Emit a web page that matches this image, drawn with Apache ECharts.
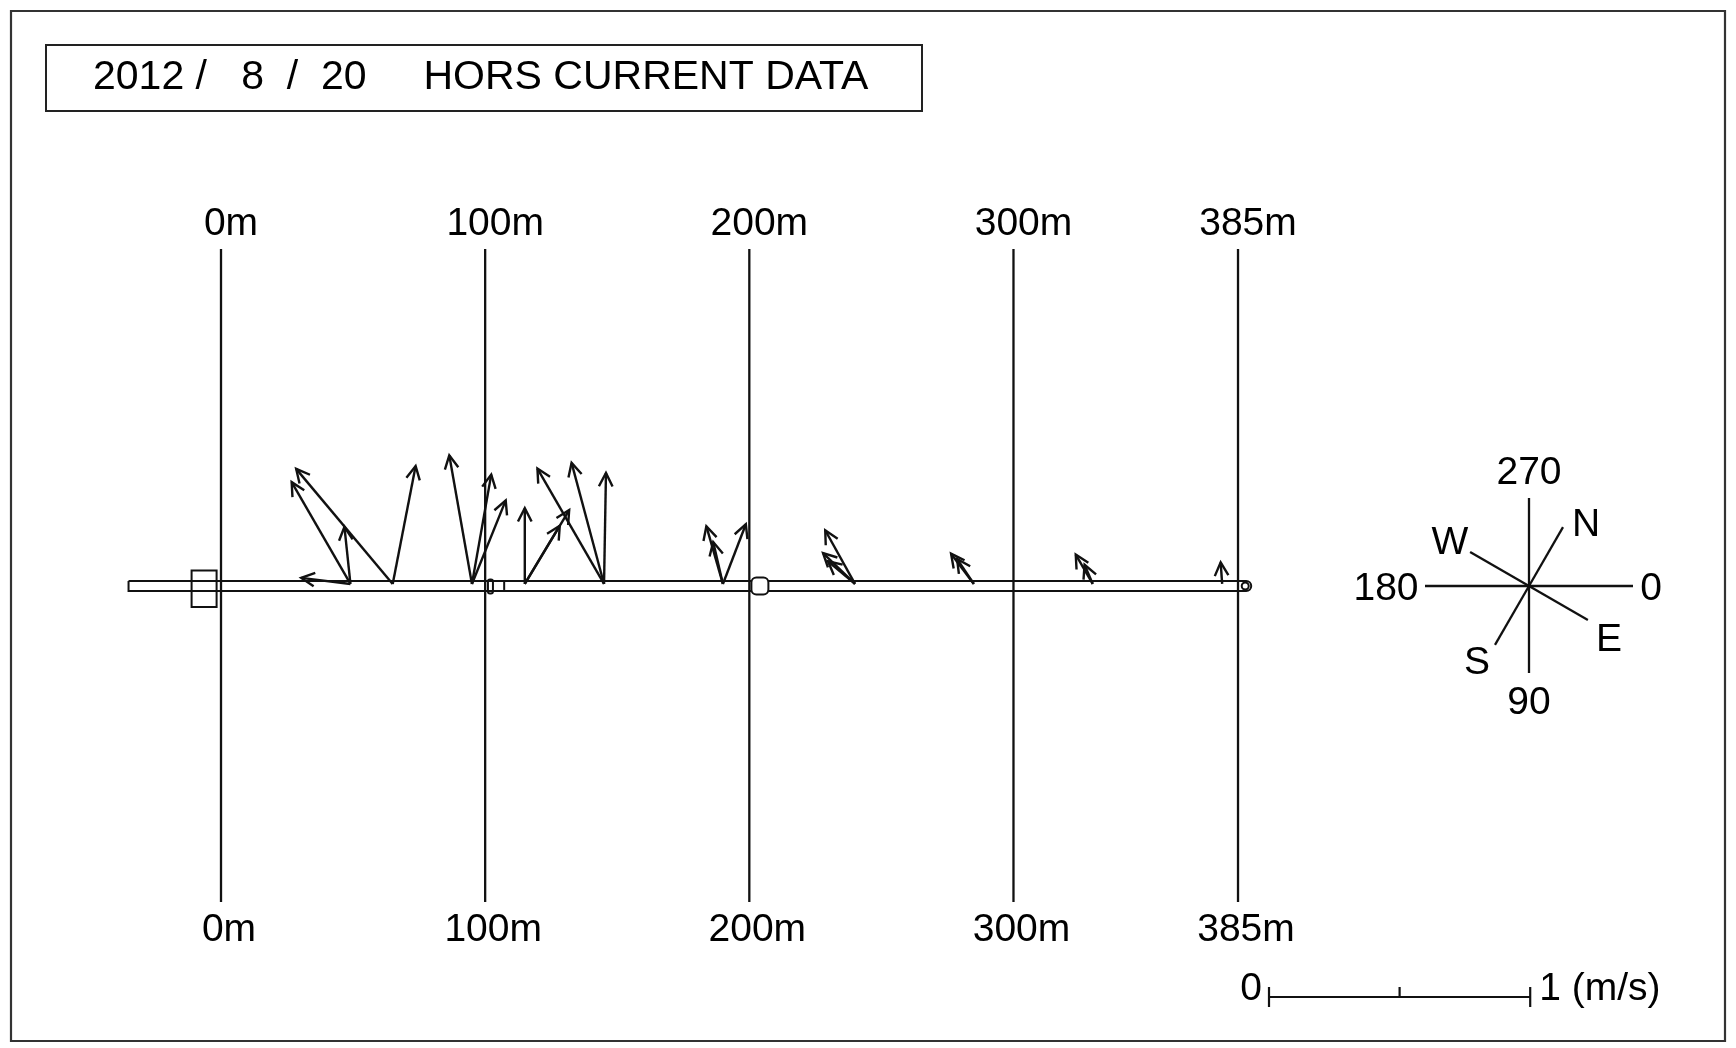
<!DOCTYPE html>
<html><head><meta charset="utf-8">
<script src="https://cdn.jsdelivr.net/npm/echarts@6/dist/echarts.min.js"></script>
<style>html,body{margin:0;padding:0;background:#fff}#c{width:1736px;height:1048px}</style>
</head><body><div id="c"></div>
<script>
// ---------------- data ----------------
const titleText = '2012 /   8  /  20     HORS CURRENT DATA';
const stationValues = [0, 100, 200, 300, 385];
const stationLabels = ['0m', '100m', '200m', '300m', '385m'];
// current vectors: base position along pier (m), direction (deg, 0 = right, 90 = down), speed (m/s)
const arrowPositions  = [49, 49, 49, 65, 65, 95, 95, 95, 115, 115, 115, 145, 145, 145, 190, 190, 190, 240, 240, 240, 285, 285, 330, 330, 379];
const arrowDirections = [240, 264, 187, 230, 281, 260, 280, 292, 270, 301, 301, 240, 255, 271, 254, 257, 291, 241, 224, 220, 233, 236, 240, 247, 266];
const arrowSpeeds     = [0.45, 0.22, 0.19, 0.575, 0.46, 0.50, 0.425, 0.345, 0.29, 0.33, 0.26, 0.51, 0.48, 0.425, 0.23, 0.165, 0.245, 0.235, 0.17, 0.135, 0.145, 0.115, 0.13, 0.08, 0.083];
const compassValues = [0, 90, 180, 270];
const compassLabels = ['0', '90', '180', '270'];
const bearingValues = [30, 120, 210, 300];
const bearingLabels = ['E', 'S', 'W', 'N'];
const scaleValues = [0, 0.5, 1];
const scaleLabels = ['0', '', '1 (m/s)'];
const pierExtent = [-35, 390];
const pierBlockM = -6.4, pierJointM = 102, pierTickM = 107.2, pierNodeM = 204;

// ---------------- style / layout ----------------
const INK = '#111';
const FONT = '"Liberation Sans", Arial, sans-serif';
const compassCenter = [1529, 586];
const compassLabelPos = {'0': [1651, 589], '90': [1529, 703], '180': [1386, 589], '270': [1529, 473],
                         'E': [1609, 640], 'S': [1477, 663], 'W': [1450, 543], 'N': [1586, 525]};
const scaleOrigin = [1269, 997];

const chart = echarts.init(document.getElementById('c'), null, {renderer: 'canvas'});

function compassGraphics() {
  const [cx, cy] = compassCenter;
  const els = [];
  const arm = {0: 104, 90: 87, 180: 104, 270: 88};
  compassValues.forEach((d, i) => {
    const t = d * Math.PI / 180;
    els.push({type: 'line', shape: {x1: cx, y1: cy, x2: cx + arm[d] * Math.cos(t), y2: cy + arm[d] * Math.sin(t)},
      style: {stroke: INK, lineWidth: 2.3}});
    const p = compassLabelPos[compassLabels[i]];
    els.push({type: 'text', x: p[0], y: p[1], style: {text: compassLabels[i], align: 'center', verticalAlign: 'middle',
      fontSize: 39, fontFamily: FONT, fill: '#000'}});
  });
  bearingValues.forEach((d, i) => {
    const t = d * Math.PI / 180;
    els.push({type: 'line', shape: {x1: cx, y1: cy, x2: cx + 68 * Math.cos(t), y2: cy + 68 * Math.sin(t)},
      style: {stroke: INK, lineWidth: 2.3}});
    const p = compassLabelPos[bearingLabels[i]];
    els.push({type: 'text', x: p[0], y: p[1], style: {text: bearingLabels[i], align: 'center', verticalAlign: 'middle',
      fontSize: 39, fontFamily: FONT, fill: '#000'}});
  });
  return els;
}

const option = {
  backgroundColor: '#ffffff',
  animation: false,
  title: {
    text: titleText, left: 46, top: 45, padding: [12, 54, 13, 47],
    borderColor: '#222', borderWidth: 2,
    textStyle: {fontSize: 41, fontWeight: 'normal', fontFamily: FONT, color: '#000'}
  },
  grid: {left: 115.34, width: 1162.3, top: 249, height: 653},
  xAxis: [
    {type: 'value', position: 'top', min: -40, max: 400,
      axisLine: {show: false}, axisTick: {show: false}, splitLine: {show: false},
      axisLabel: {customValues: stationValues, formatter: v => stationLabels[stationValues.indexOf(v)],
        fontSize: 39, fontFamily: FONT, color: '#000', margin: 5, padding: [0, 0, 0, 20]}},
    {type: 'value', position: 'bottom', min: -40, max: 400,
      axisLine: {show: false}, axisTick: {show: false}, splitLine: {show: false},
      axisLabel: {customValues: stationValues, formatter: v => stationLabels[stationValues.indexOf(v)],
        fontSize: 39, fontFamily: FONT, color: '#000', margin: 9, padding: [0, 0, 0, 16]}}
  ],
  yAxis: {type: 'value', min: -1.21, max: 1.29, show: false},
  graphic: [
    {type: 'rect', shape: {x: 11, y: 11, width: 1714, height: 1030}, style: {fill: null, stroke: '#333', lineWidth: 2.2}, silent: true},
    ...compassGraphics()
  ],
  series: [
    { // station lines
      type: 'custom', name: 'stations', xAxisIndex: 0, clip: false,
      data: stationValues.map(v => [v, 0]),
      renderItem(params, api) {
        const x = api.coord([api.value(0), 0])[0];
        const cs = params.coordSys;
        return {type: 'line', shape: {x1: x, y1: cs.y, x2: x, y2: cs.y + cs.height}, style: {stroke: INK, lineWidth: 2.3}};
      }
    },
    { // pier
      type: 'custom', name: 'pier', xAxisIndex: 0, clip: false,
      data: [[pierExtent[0], 0, pierExtent[1]]],
      renderItem(params, api) {
        const a = api.coord([api.value(0), 0]);
        const b = api.coord([api.value(2), 0]);
        const y = a[1];
        const bx = api.coord([pierBlockM, 0])[0];
        const jx = api.coord([pierJointM, 0])[0];
        const tx = api.coord([pierTickM, 0])[0];
        const nx = api.coord([pierNodeM, 0])[0];
        const st = {fill: null, stroke: INK, lineWidth: 2};
        return {type: 'group', children: [
          {type: 'rect', shape: {x: a[0], y: y - 5, width: b[0] - a[0], height: 10, r: [0, 5, 5, 0]}, style: st},
          {type: 'circle', shape: {cx: b[0] - 6, cy: y, r: 3.5}, style: st},
          {type: 'rect', shape: {x: bx - 12.5, y: y - 15.5, width: 25, height: 36.5}, style: st},
          {type: 'rect', shape: {x: jx - 2.5, y: y - 6.5, width: 5, height: 14, r: 2}, style: st},
          {type: 'line', shape: {x1: tx, y1: y - 4, x2: tx, y2: y + 4}, style: st},
          {type: 'rect', shape: {x: nx - 8.5, y: y - 8.5, width: 17, height: 17, r: 5}, style: {fill: '#fff', stroke: INK, lineWidth: 2}}
        ]};
      }
    },
    { // current arrows
      type: 'custom', name: 'current', xAxisIndex: 0, clip: false,
      data: arrowPositions.map((p, i) => [p, 0, arrowDirections[i], arrowSpeeds[i]]),
      encode: {x: 0, y: 1},
      renderItem(params, api) {
        const base = api.coord([api.value(0), api.value(1)]);
        base[1] -= 2;
        const unit = api.size([0, 1])[1];
        const th = api.value(2) * Math.PI / 180;
        const len = api.value(3) * unit;
        const tip = [base[0] + len * Math.cos(th), base[1] + len * Math.sin(th)];
        const h = 15, a = 27 * Math.PI / 180;
        const b1 = [tip[0] - h * Math.cos(th - a), tip[1] - h * Math.sin(th - a)];
        const b2 = [tip[0] - h * Math.cos(th + a), tip[1] - h * Math.sin(th + a)];
        return {type: 'group', children: [
          {type: 'line', shape: {x1: base[0], y1: base[1], x2: tip[0], y2: tip[1]}, style: {stroke: INK, lineWidth: 2.4}},
          {type: 'polyline', shape: {points: [b1, tip, b2]}, style: {stroke: INK, lineWidth: 2.4, fill: null, lineJoin: 'miter'}}
        ]};
      }
    },
    { // speed scale bar
      type: 'custom', name: 'scale', xAxisIndex: 0, clip: false,
      data: [[0, 0]],
      renderItem(params, api) {
        const unit = api.size([0, 1])[1];
        const [ox, oy] = scaleOrigin;
        const st = {stroke: INK, lineWidth: 2.2};
        const max = scaleValues[scaleValues.length - 1];
        const ch = [{type: 'line', shape: {x1: ox, y1: oy, x2: ox + max * unit, y2: oy}, style: st}];
        scaleValues.forEach((v, i) => {
          const x = ox + v * unit;
          const end = (i === 0 || i === scaleValues.length - 1);
          ch.push({type: 'line', shape: {x1: x, y1: oy - 10, x2: x, y2: end ? oy + 10 : oy}, style: st});
          if (scaleLabels[i]) {
            ch.push({type: 'text', x: i === 0 ? x - 7 : x + 9, y: oy - 8,
              style: {text: scaleLabels[i], align: i === 0 ? 'right' : 'left', verticalAlign: 'middle',
                fontSize: 39, fontFamily: FONT, fill: '#000'}});
          }
        });
        return {type: 'group', children: ch};
      }
    }
  ]
};
chart.setOption(option);
</script></body></html>
